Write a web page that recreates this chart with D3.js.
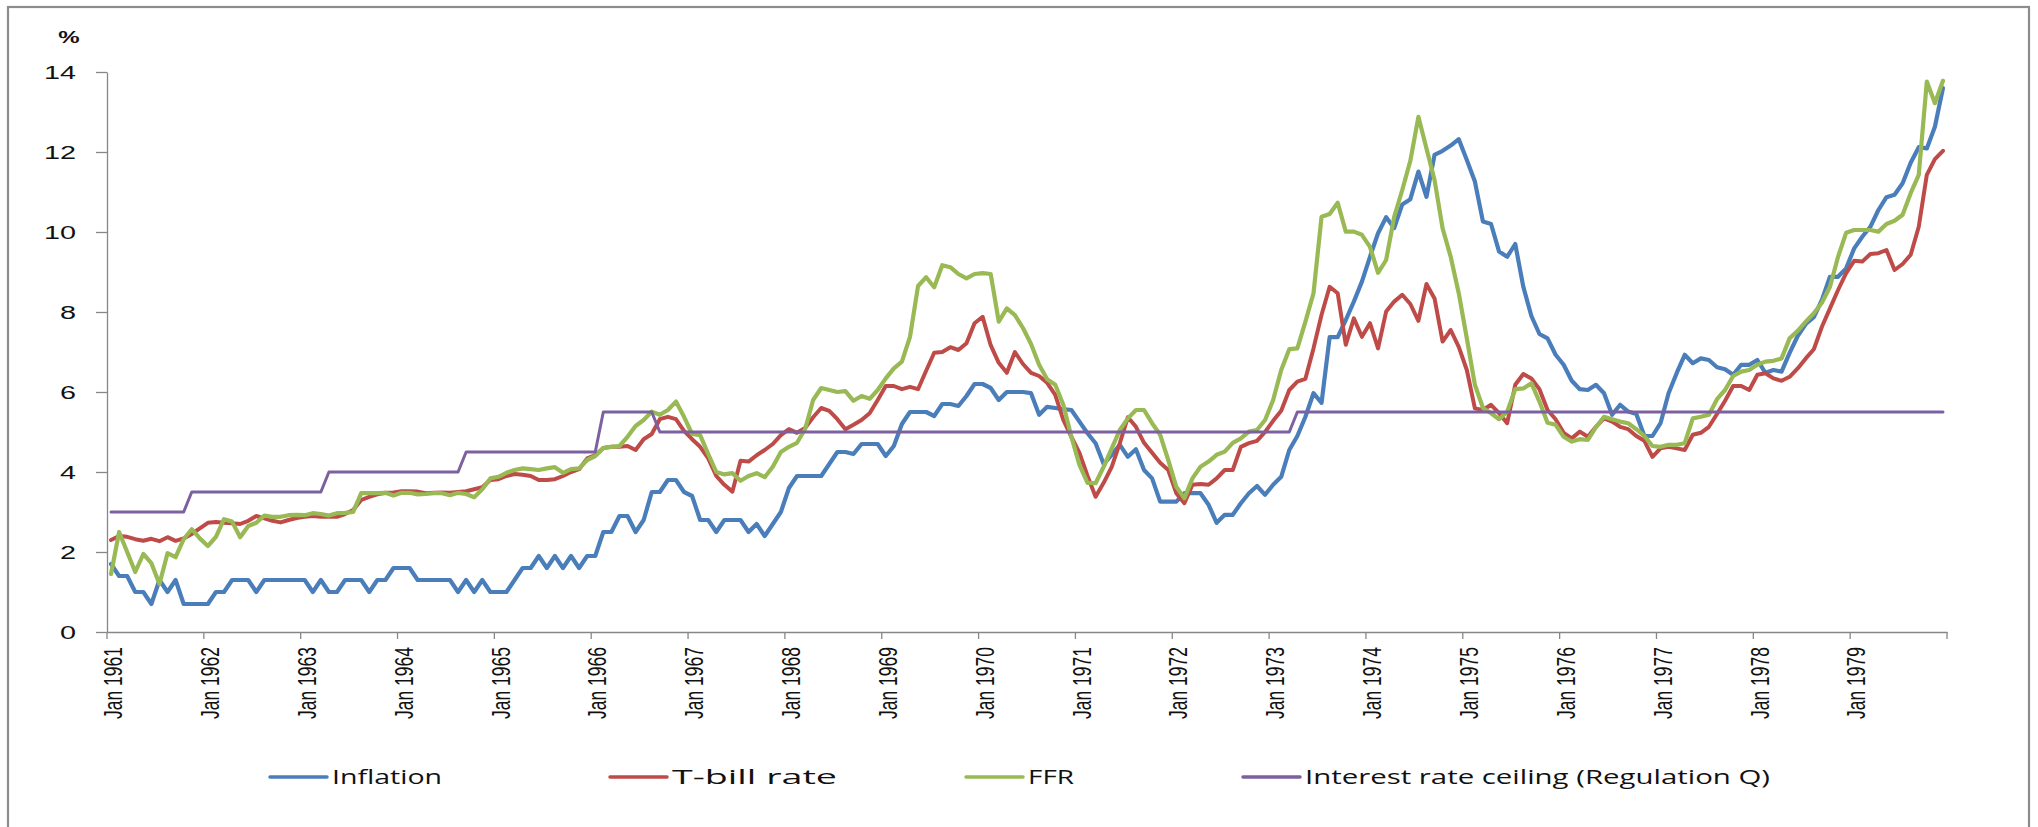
<!DOCTYPE html>
<html>
<head>
<meta charset="utf-8">
<script src="https://cdn.jsdelivr.net/npm/d3@7"></script>
<style>
  html, body { margin: 0; padding: 0; background: #ffffff; }
  svg { display: block; }
</style>
</head>
<body>
<svg id="chart" width="2038" height="827"></svg>
<script>
// ---------- DATA ----------
const startMonth = "1961-01";
const endMonth = "1980-01"; // exclusive
const tickLabels = ["Jan 1961","Jan 1962","Jan 1963","Jan 1964","Jan 1965","Jan 1966","Jan 1967","Jan 1968","Jan 1969","Jan 1970",
  "Jan 1971","Jan 1972","Jan 1973","Jan 1974","Jan 1975","Jan 1976","Jan 1977","Jan 1978","Jan 1979"];
const yTicks = [0, 2, 4, 6, 8, 10, 12, 14];
const seriesNames = ["Inflation", "T-bill rate", "FFR", "Interest rate ceiling (Regulation Q)"];

const inflation = [
  1.7,1.4,1.4,1.0,1.0,0.7,1.3,1.0,1.3,0.7,0.7,0.7,
  0.7,1.0,1.0,1.3,1.3,1.3,1.0,1.3,1.3,1.3,1.3,1.3,
  1.3,1.0,1.3,1.0,1.0,1.3,1.3,1.3,1.0,1.3,1.3,1.6,
  1.6,1.6,1.3,1.3,1.3,1.3,1.3,1.0,1.3,1.0,1.3,1.0,
  1.0,1.0,1.3,1.6,1.6,1.9,1.6,1.9,1.6,1.9,1.6,1.9,
  1.9,2.5,2.5,2.9,2.9,2.5,2.8,3.5,3.5,3.8,3.8,3.5,
  3.4,2.8,2.8,2.5,2.8,2.8,2.8,2.5,2.7,2.4,2.7,3.0,
  3.6,3.9,3.9,3.9,3.9,4.2,4.5,4.5,4.45,4.7,4.7,4.7,
  4.4,4.65,5.2,5.5,5.5,5.5,5.4,5.7,5.7,5.65,5.9,6.2,
  6.2,6.1,5.8,6.0,6.0,6.0,5.97,5.43,5.63,5.6,5.57,5.55,
  5.26,4.97,4.72,4.2,4.43,4.68,4.38,4.57,4.05,3.84,3.26,3.26,
  3.26,3.47,3.47,3.47,3.18,2.73,2.93,2.93,3.22,3.47,3.65,3.43,
  3.68,3.88,4.55,4.9,5.38,5.97,5.73,7.37,7.37,7.8,8.26,8.76,
  9.38,9.97,10.37,10.1,10.69,10.82,11.51,10.88,11.93,12.03,12.16,12.32,
  11.8,11.26,10.26,10.2,9.51,9.38,9.7,8.63,7.9,7.45,7.34,6.93,
  6.68,6.28,6.07,6.05,6.18,5.97,5.43,5.68,5.51,5.45,4.9,4.9,
  5.22,5.97,6.47,6.93,6.72,6.84,6.8,6.62,6.57,6.43,6.68,6.68,
  6.8,6.48,6.55,6.51,6.98,7.4,7.7,7.87,8.3,8.88,8.88,9.09,
  9.59,9.88,10.13,10.55,10.87,10.93,11.22,11.73,12.12,12.09,12.63,13.6
];

const tbill = [
  2.3,2.4,2.38,2.32,2.28,2.33,2.27,2.37,2.28,2.34,2.45,2.59,
  2.73,2.75,2.73,2.72,2.7,2.78,2.9,2.84,2.78,2.74,2.8,2.85,
  2.88,2.9,2.88,2.88,2.88,2.95,3.05,3.3,3.38,3.44,3.48,3.49,
  3.52,3.52,3.51,3.47,3.48,3.49,3.48,3.5,3.52,3.57,3.62,3.8,
  3.82,3.9,3.95,3.93,3.9,3.8,3.8,3.82,3.9,4.0,4.07,4.34,
  4.42,4.6,4.63,4.63,4.65,4.55,4.82,4.95,5.32,5.38,5.32,5.03,
  4.82,4.63,4.34,3.9,3.68,3.51,4.28,4.26,4.42,4.55,4.7,4.92,
  5.07,4.98,5.1,5.37,5.6,5.53,5.32,5.07,5.18,5.3,5.47,5.8,
  6.15,6.15,6.07,6.13,6.07,6.53,6.98,7.0,7.12,7.05,7.22,7.72,
  7.88,7.17,6.73,6.48,7.0,6.7,6.48,6.4,6.23,5.93,5.3,4.88,
  4.48,3.9,3.38,3.73,4.13,4.72,5.37,5.13,4.73,4.48,4.23,4.05,
  3.47,3.22,3.68,3.7,3.68,3.84,4.05,4.05,4.63,4.72,4.78,5.0,
  5.28,5.53,6.05,6.26,6.33,7.09,7.93,8.63,8.47,7.18,7.84,7.38,
  7.72,7.09,8.01,8.26,8.43,8.2,7.78,8.7,8.34,7.26,7.55,7.13,
  6.55,5.59,5.55,5.68,5.47,5.22,6.18,6.45,6.34,6.07,5.55,5.32,
  4.98,4.84,5.01,4.88,5.13,5.34,5.26,5.13,5.07,4.9,4.78,4.38,
  4.59,4.63,4.59,4.55,4.93,4.98,5.13,5.45,5.78,6.15,6.15,6.05,
  6.43,6.47,6.34,6.28,6.38,6.59,6.84,7.07,7.63,8.09,8.55,8.97,
  9.28,9.26,9.45,9.47,9.55,9.05,9.2,9.43,10.13,11.43,11.82,12.03
];

const ffr = [
  1.45,2.5,2.0,1.5,1.95,1.72,1.2,1.97,1.87,2.32,2.57,2.34,
  2.15,2.38,2.82,2.76,2.37,2.65,2.73,2.91,2.88,2.88,2.92,2.93,
  2.92,2.97,2.95,2.91,2.97,2.98,3.0,3.47,3.47,3.47,3.48,3.41,
  3.48,3.48,3.44,3.45,3.47,3.47,3.42,3.48,3.45,3.37,3.57,3.84,
  3.88,3.98,4.05,4.09,4.07,4.05,4.09,4.12,3.98,4.07,4.09,4.3,
  4.4,4.6,4.63,4.65,4.88,5.15,5.3,5.51,5.43,5.55,5.76,5.38,
  4.95,4.92,4.45,4.0,3.94,3.97,3.78,3.9,3.97,3.87,4.13,4.5,
  4.63,4.73,5.07,5.8,6.1,6.05,6.0,6.02,5.78,5.9,5.83,6.05,
  6.34,6.59,6.76,7.38,8.65,8.87,8.62,9.17,9.12,8.95,8.84,8.95,
  8.97,8.95,7.76,8.09,7.92,7.6,7.2,6.68,6.32,6.18,5.68,4.88,
  4.18,3.73,3.72,4.13,4.59,5.05,5.34,5.55,5.55,5.22,4.93,4.3,
  3.63,3.34,3.84,4.13,4.26,4.43,4.51,4.73,4.84,5.01,5.05,5.3,
  5.8,6.55,7.07,7.09,7.76,8.47,10.38,10.45,10.73,10.01,10.01,9.93,
  9.63,8.98,9.3,10.38,11.05,11.78,12.88,12.09,11.3,10.09,9.38,8.47,
  7.34,6.18,5.6,5.47,5.32,5.51,6.07,6.09,6.22,5.76,5.23,5.18,
  4.88,4.76,4.82,4.8,5.12,5.38,5.32,5.26,5.22,5.07,4.9,4.65,
  4.63,4.68,4.68,4.72,5.34,5.38,5.43,5.82,6.05,6.4,6.51,6.55,
  6.68,6.76,6.78,6.84,7.34,7.53,7.76,7.97,8.23,8.63,9.38,9.98,
  10.05,10.05,10.05,10.01,10.2,10.28,10.43,10.97,11.43,13.76,13.22,13.78
];

const regQ = [
  3,3,3,3,3,3,3,3,3,3,3.5,3.5,
  3.5,3.5,3.5,3.5,3.5,3.5,3.5,3.5,3.5,3.5,3.5,3.5,
  3.5,3.5,3.5,4,4,4,4,4,4,4,4,4,
  4,4,4,4,4,4,4,4,4.5,4.5,4.5,4.5,
  4.5,4.5,4.5,4.5,4.5,4.5,4.5,4.5,4.5,4.5,4.5,4.5,
  4.5,5.5,5.5,5.5,5.5,5.5,5.5,5.5,5,5,5,5,
  5,5,5,5,5,5,5,5,5,5,5,5,
  5,5,5,5,5,5,5,5,5,5,5,5,
  5,5,5,5,5,5,5,5,5,5,5,5,
  5,5,5,5,5,5,5,5,5,5,5,5,
  5,5,5,5,5,5,5,5,5,5,5,5,
  5,5,5,5,5,5,5,5,5,5,5,5,
  5,5,5,5.5,5.5,5.5,5.5,5.5,5.5,5.5,5.5,5.5,
  5.5,5.5,5.5,5.5,5.5,5.5,5.5,5.5,5.5,5.5,5.5,5.5,
  5.5,5.5,5.5,5.5,5.5,5.5,5.5,5.5,5.5,5.5,5.5,5.5,
  5.5,5.5,5.5,5.5,5.5,5.5,5.5,5.5,5.5,5.5,5.5,5.5,
  5.5,5.5,5.5,5.5,5.5,5.5,5.5,5.5,5.5,5.5,5.5,5.5,
  5.5,5.5,5.5,5.5,5.5,5.5,5.5,5.5,5.5,5.5,5.5,5.5,
  5.5,5.5,5.5,5.5,5.5,5.5,5.5,5.5,5.5,5.5,5.5,5.5
];

// ---------- BUILD ----------
const fmt = d3.timeFormat("%b %Y");
const parseM = d3.timeParse("%Y-%m");
const categories = d3.timeMonth.range(parseM(startMonth), parseM(endMonth)).map(fmt);

const svg = d3.select("#chart");
const axisColor = "#878787";
const colors = ["#4a7ebb", "#be4b48", "#98b954", "#7d60a0"];
const widths = [4.2, 4, 4.2, 3];

// outer border
svg.append("rect").attr("x", 8).attr("y", 7).attr("width", 2021).attr("height", 840)
  .attr("fill", "none").attr("stroke", "#8c8c8c").attr("stroke-width", 2.2);

const x = d3.scaleBand().domain(categories).range([107, 1947]).padding(0);
const bw = x.bandwidth();
const xc = c => x(c) + bw / 2;
const y = d3.scaleLinear().domain([0, 14]).range([632, 72]);

// Y axis
const gy = svg.append("g").attr("transform", "translate(107,0)")
  .call(d3.axisLeft(y).tickValues(yTicks).tickSize(11).tickSizeOuter(0).tickPadding(20).tickFormat(d3.format("d")));
gy.select(".domain").attr("stroke", axisColor).attr("stroke-width", 1.3);
gy.selectAll(".tick line").attr("stroke", axisColor).attr("stroke-width", 1.3);
gy.selectAll(".tick text")
  .attr("x", null).attr("dy", "0.36em")
  .attr("transform", "translate(-31,0) scale(1.6,1)")
  .attr("font-family", "'Liberation Sans', Arial, sans-serif")
  .attr("font-size", 18).attr("fill", "#111");

// "%" label
svg.append("text").attr("transform", "translate(69,43) scale(1.5,1)")
  .attr("text-anchor", "middle").attr("font-family", "'Liberation Sans', Arial, sans-serif")
  .attr("font-size", 16).attr("font-weight", "bold").attr("fill", "#111").text("%");

// X axis
const gx = svg.append("g").attr("transform", "translate(0,632)")
  .call(d3.axisBottom(x).tickValues(tickLabels).tickSize(7).tickSizeOuter(0));
gx.select(".domain").attr("stroke", axisColor).attr("stroke-width", 1.3);
gx.selectAll(".tick line").attr("x1", -bw / 2).attr("x2", -bw / 2)
  .attr("stroke", axisColor).attr("stroke-width", 1.3);
gx.selectAll(".tick text")
  .attr("y", null).attr("dy", "0.35em")
  .attr("transform", "translate(2,15) scale(1.5,1) rotate(-90)")
  .attr("text-anchor", "end")
  .attr("font-family", "'Liberation Sans', Arial, sans-serif")
  .attr("font-size", 17.5).attr("fill", "#111");
gx.append("line").attr("x1", x.range()[1]).attr("x2", x.range()[1]).attr("y1", 0).attr("y2", 7)
  .attr("stroke", axisColor).attr("stroke-width", 1.3);

// Lines
const allSeries = [inflation, tbill, ffr, regQ];
const line = d3.line().x((d, i) => xc(categories[i])).y(d => y(d));
allSeries.forEach((s, k) => {
  svg.append("path").datum(s)
    .attr("d", line)
    .attr("fill", "none")
    .attr("stroke", colors[k])
    .attr("stroke-width", widths[k])
    .attr("stroke-linejoin", "round")
    .attr("stroke-linecap", "round");
});

// Legend
const legendX = [270, 610, 966, 1243];
const legendTextLen = [110, 165, 46, 465];
const legendY = 777;
const lg = svg.append("g");
seriesNames.forEach((name, k) => {
  lg.append("line").attr("x1", legendX[k]).attr("x2", legendX[k] + 57)
    .attr("y1", legendY).attr("y2", legendY)
    .attr("stroke", colors[k]).attr("stroke-width", 3.5).attr("stroke-linecap", "round");
  lg.append("text").attr("x", legendX[k] + 62).attr("y", legendY).attr("dy", "0.36em")
    .attr("font-family", "'Open Sans', 'Liberation Sans', sans-serif")
    .attr("font-size", 20).attr("fill", "#111")
    .attr("textLength", legendTextLen[k]).attr("lengthAdjust", "spacingAndGlyphs")
    .text(name);
});
</script>
</body>
</html>
